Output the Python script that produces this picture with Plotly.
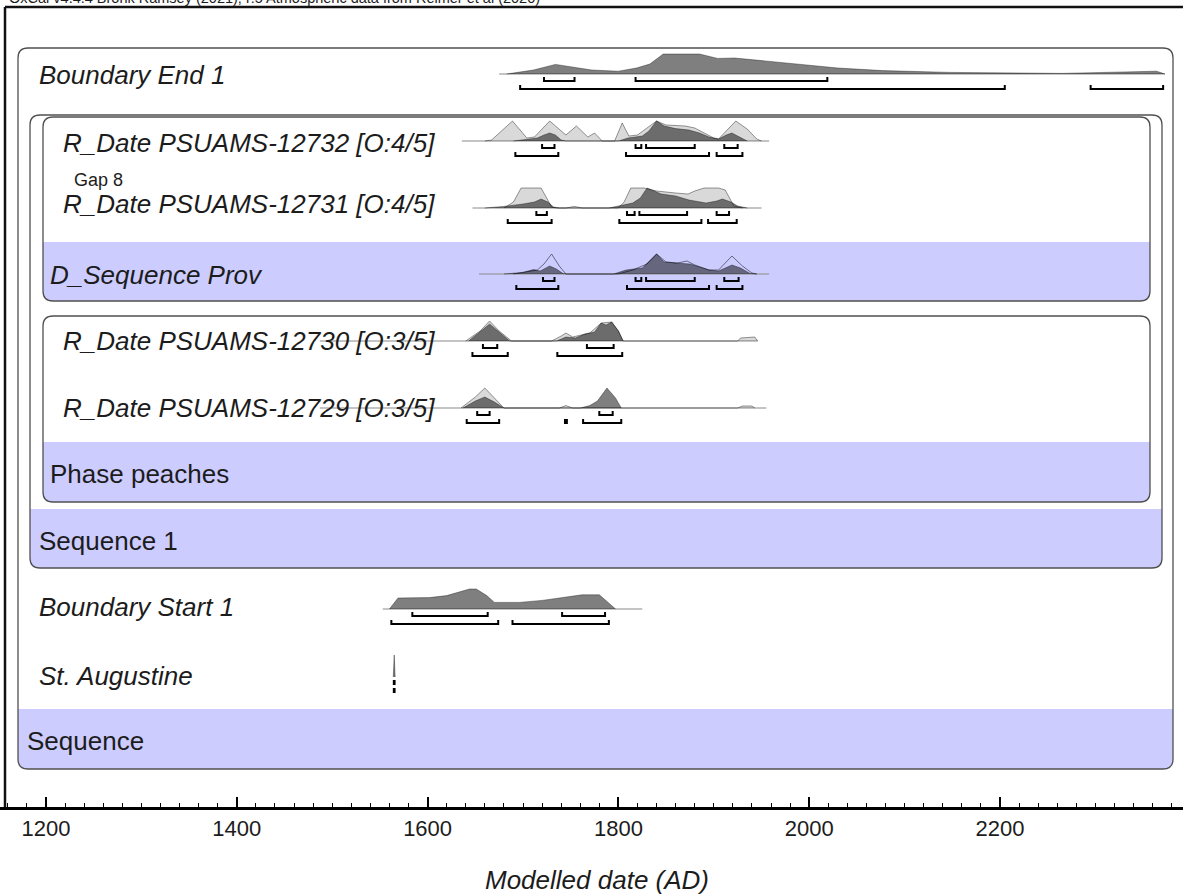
import plotly.graph_objects as go

# ---------------- data ----------------
title_text = "OxCal v4.4.4 Bronk Ramsey (2021); r:5 Atmospheric data from Reimer et al (2020)"
axis_title = "Modelled date (AD)"
tick_years = [1200, 1400, 1600, 1800, 2000, 2200]

# Boundary End 1
end1_span = [1675, 2373]
end1_years = [1683, 1711, 1734, 1749, 1772, 1800, 1819, 1833, 1847, 1885, 1904, 1922, 1940, 1959, 1997, 2030, 2077, 2148, 2265, 2331, 2364, 2373]
end1_post = [0, 0.2, 0.48, 0.38, 0.2, 0.14, 0.3, 0.5, 1.0, 1.0, 0.78, 0.8, 0.72, 0.6, 0.43, 0.3, 0.17, 0.08, 0.03, 0.08, 0.14, 0]
end1_68 = [[1722, 1754], [1818, 2019]]
end1_95 = [[1697, 2205], [2295, 2371]]

# R_Date PSUAMS-12732
d32_span = [1636, 1958]
d32_prior_years = [1660, 1667, 1689, 1704, 1712, 1728, 1745, 1756, 1768, 1775, 1783, 1796, 1804, 1811, 1820, 1840, 1850, 1860, 1870, 1880, 1890, 1900, 1905, 1923, 1935, 1945, 1950]
d32_prior = [0, 0.05, 1.0, 0.15, 0.2, 1.0, 0.3, 0.75, 0.2, 0.4, 0, 0, 0.9, 0.25, 0.3, 1.0, 0.8, 0.78, 0.75, 0.65, 0.4, 0.15, 0.1, 1.0, 0.6, 0.1, 0]
d32_post_years = [1690, 1700, 1715, 1722, 1728, 1734, 1740, 1745, 1800, 1810, 1825, 1832, 1840, 1848, 1860, 1874, 1885, 1895, 1905, 1913, 1919, 1927, 1935]
d32_post = [0, 0.05, 0.15, 0.3, 0.4, 0.3, 0.05, 0, 0, 0.15, 0.25, 0.5, 1.0, 0.75, 0.62, 0.55, 0.4, 0.2, 0.1, 0.3, 0.4, 0.2, 0]
d32_68 = [[1720, 1733], [1818, 1824], [1829, 1880], [1911, 1925]]
d32_95 = [[1692, 1737], [1808, 1895], [1903, 1930]]

# R_Date PSUAMS-12731
d31_span = [1647, 1950]
d31_prior_years = [1680, 1690, 1698, 1719, 1730, 1735, 1745, 1754, 1762, 1800, 1806, 1813, 1827, 1840, 1860, 1873, 1880, 1890, 1905, 1912, 1921, 1930]
d31_prior = [0, 0.3, 1.0, 1.0, 0.05, 0, 0, 0.08, 0, 0, 0.3, 1.0, 1.0, 0.85, 0.75, 0.7, 0.85, 1.0, 1.0, 0.9, 0.1, 0]
d31_post_years = [1660, 1680, 1700, 1712, 1719, 1726, 1732, 1738, 1790, 1800, 1815, 1823, 1830, 1845, 1860, 1874, 1892, 1903, 1909, 1918, 1925, 1935]
d31_post = [0, 0.08, 0.2, 0.3, 0.45, 0.3, 0.05, 0, 0, 0.1, 0.25, 0.5, 1.0, 0.7, 0.6, 0.4, 0.25, 0.35, 0.45, 0.3, 0.1, 0]
d31_68 = [[1714, 1725], [1809, 1817], [1822, 1872], [1903, 1916]]
d31_95 = [[1684, 1730], [1801, 1887], [1894, 1924]]

# D_Sequence Prov
dseq_span = [1654, 1958]
dseq_prior_years = [1690, 1705, 1715, 1722, 1730, 1738, 1745, 1800, 1815, 1830, 1840, 1850, 1862, 1872, 1880, 1895, 1905, 1919, 1930, 1940, 1945]
dseq_prior = [0, 0.1, 0.2, 0.5, 1.0, 0.4, 0, 0, 0.2, 0.5, 1.0, 0.6, 0.55, 0.65, 0.45, 0.2, 0.2, 0.9, 0.4, 0.05, 0]
dseq_post_years = [1680, 1700, 1711, 1718, 1724, 1728, 1735, 1742, 1746, 1795, 1808, 1825, 1840, 1848, 1860, 1875, 1885, 1895, 1905, 1912, 1919, 1928, 1938, 1945]
dseq_post = [0, 0.08, 0.22, 0.15, 0.3, 0.4, 0.25, 0.02, 0, 0, 0.2, 0.3, 1.0, 0.6, 0.55, 0.5, 0.35, 0.2, 0.15, 0.3, 0.45, 0.3, 0.03, 0]
dseq_68 = [[1721, 1733], [1818, 1824], [1829, 1880], [1911, 1926]]
dseq_95 = [[1693, 1737], [1809, 1895], [1903, 1930]]

# R_Date PSUAMS-12730
d30_span = [1487, 1946]
d30_prior_years = [1640, 1655, 1665, 1675, 1688, 1730, 1740, 1745, 1752, 1760, 1770, 1782, 1793, 1800, 1805, 1925, 1928, 1943, 1946]
d30_prior = [0, 0.5, 1.0, 0.5, 0, 0, 0.25, 0.4, 0.2, 0.3, 0.4, 0.9, 0.95, 0.5, 0, 0, 0.15, 0.2, 0]
d30_post_years = [1643, 1655, 1665, 1675, 1686, 1735, 1745, 1755, 1765, 1775, 1782, 1787, 1793, 1800, 1805]
d30_post = [0, 0.45, 0.85, 0.45, 0, 0, 0.2, 0.15, 0.35, 0.45, 0.9, 0.8, 0.95, 0.5, 0]
d30_68 = [[1658, 1673], [1767, 1795]]
d30_95 = [[1647, 1684], [1736, 1804]]

# R_Date PSUAMS-12729
d29_span = [1487, 1955]
d29_prior_years = [1635, 1650, 1660, 1670, 1680, 1738, 1745, 1752, 1925, 1930, 1940, 1943]
d29_prior = [0, 0.55, 1.0, 0.5, 0, 0, 0.12, 0, 0, 0.1, 0.1, 0]
d29_post_years = [1637, 1650, 1660, 1670, 1680, 1760, 1770, 1778, 1788, 1797, 1803]
d29_post = [0, 0.35, 0.55, 0.3, 0, 0, 0.12, 0.35, 1.0, 0.5, 0]
d29_68 = [[1652, 1665], [1780, 1794]]
d29_95 = [[1641, 1675], [1744, 1746], [1763, 1803]]

# Boundary Start 1
start1_span = [1553, 1825]
start1_years = [1560, 1569, 1602, 1620, 1633, 1644, 1651, 1662, 1670, 1696, 1720, 1741, 1762, 1780, 1790, 1797]
start1_post = [0, 0.55, 0.57, 0.67, 0.85, 1.0, 1.0, 0.67, 0.33, 0.33, 0.43, 0.57, 0.71, 0.71, 0.3, 0]
start1_68 = [[1584, 1663], [1741, 1786]]
start1_95 = [[1562, 1674], [1689, 1790]]

# St. Augustine (C_Date 1565)
aug_years = [1564, 1565, 1566]
aug_post = [0, 1.0, 0]
aug_68 = [[1564.6, 1565.4]]
aug_95 = [[1564.6, 1565.4]]

# ---------------- layout constants ----------------
W, H = 1183, 894
PLOT_BOTTOM = 807          # pixel row of the date axis
PX0_YEAR, PX_PER_YEAR = 1200, 0.954
X_AT_1200 = 46
x_range = [PX0_YEAR - X_AT_1200 / PX_PER_YEAR, PX0_YEAR + (W - X_AT_1200) / PX_PER_YEAR]
FONT = "Liberation Sans, Arial, Helvetica, sans-serif"
TXT = "#1c1c1c"
BAND = "#ccccff"
BORDER = "#505050"
PEAK = 20

rows = [
    dict(base=74, span=end1_span, prior=None, post=(end1_years, end1_post), h68=end1_68, h95=end1_95),
    dict(base=141, span=d32_span, prior=(d32_prior_years, d32_prior), post=(d32_post_years, d32_post), h68=d32_68, h95=d32_95),
    dict(base=208, span=d31_span, prior=(d31_prior_years, d31_prior), post=(d31_post_years, d31_post), h68=d31_68, h95=d31_95),
    dict(base=274, span=dseq_span, prior=(dseq_prior_years, dseq_prior), post=(dseq_post_years, dseq_post), h68=dseq_68, h95=dseq_95, outline=True),
    dict(base=341, span=d30_span, prior=(d30_prior_years, d30_prior), post=(d30_post_years, d30_post), h68=d30_68, h95=d30_95),
    dict(base=408, span=d29_span, prior=(d29_prior_years, d29_prior), post=(d29_post_years, d29_post), h68=d29_68, h95=d29_95),
    dict(base=609, span=start1_span, prior=None, post=(start1_years, start1_post), h68=start1_68, h95=start1_95),
    dict(base=677, span=None, prior=None, post=(aug_years, aug_post), h68=aug_68, h95=aug_95, peak=22),
]

labels = [
    ("Boundary End 1", 37, 75, True, 26),
    ("R_Date PSUAMS-12732 [O:4/5]", 61, 143, True, 26),
    ("Gap 8", 72, 180, False, 18),
    ("R_Date PSUAMS-12731 [O:4/5]", 61, 204, True, 26),
    ("D_Sequence Prov", 48, 275, True, 26),
    ("R_Date PSUAMS-12730 [O:3/5]", 61, 341, True, 26),
    ("R_Date PSUAMS-12729 [O:3/5]", 61, 408, True, 26),
    ("Phase peaches", 48, 474, False, 26),
    ("Sequence 1", 37, 541, False, 26),
    ("Boundary Start 1", 37, 607, True, 26),
    ("St. Augustine", 37, 676, True, 26),
    ("Sequence", 25, 741, False, 26),
]

# boxes: (x0, y0, x1, y1, band_top)
boxes = [
    (18, 48, 1173, 769, 709),
    (30, 115, 1162, 568, 509),
    (43, 117, 1150, 301, 242),
    (43, 316, 1150, 502, 442),
]


def rrect(x0, y0, x1, y1, r):
    return (f"M {x0+r},{y0} L {x1-r},{y0} Q {x1},{y0} {x1},{y0+r} "
            f"L {x1},{y1-r} Q {x1},{y1} {x1-r},{y1} L {x0+r},{y1} "
            f"Q {x0},{y1} {x0},{y1-r} L {x0},{y0+r} Q {x0},{y0} {x0+r},{y0} Z")


def band(x0, yb, x1, y1, r):
    return (f"M {x0},{yb} L {x1},{yb} L {x1},{y1-r} Q {x1},{y1} {x1-r},{y1} "
            f"L {x0+r},{y1} Q {x0},{y1} {x0},{y1-r} Z")


fig = go.Figure()
shapes = []
R = 10
for (x0, y0, x1, y1, yb) in boxes:
    shapes.append(dict(type="path", path=band(x0, yb, x1, y1, R), xref="x2", yref="y",
                       fillcolor=BAND, line=dict(width=0), layer="below"))
    shapes.append(dict(type="path", path=rrect(x0, y0, x1, y1, R), xref="x2", yref="y",
                       fillcolor="rgba(0,0,0,0)", line=dict(color=BORDER, width=1.3), layer="below"))

# outer frame (left and top)
shapes.append(dict(type="line", xref="x2", yref="y", x0=5, x1=5, y0=7, y1=PLOT_BOTTOM,
                   line=dict(color="#111", width=2.5)))
shapes.append(dict(type="line", xref="x2", yref="y", x0=5, x1=W + 5, y0=7, y1=7,
                   line=dict(color="#111", width=2.5)))

for row in rows:
    base = row["base"]
    pk = row.get("peak", PEAK)
    if row["span"]:
        fig.add_trace(go.Scatter(x=row["span"], y=[base, base], mode="lines",
                                 line=dict(color="#8a8a8a", width=1.2), hoverinfo="skip"))
    if row["prior"]:
        yrs, pr = row["prior"]
        ys = [base - p * pk for p in pr]
        if row.get("outline"):
            fig.add_trace(go.Scatter(x=yrs, y=ys, mode="lines",
                                     line=dict(color="rgba(70,70,90,0.75)", width=1), hoverinfo="skip"))
        else:
            fig.add_trace(go.Scatter(x=yrs, y=ys, mode="lines", fill="toself",
                                     fillcolor="rgba(0,0,0,0.15)",
                                     line=dict(color="rgba(0,0,0,0.4)", width=1), hoverinfo="skip"))
    yrs, po = row["post"]
    ys = [base - p * pk for p in po]
    fig.add_trace(go.Scatter(x=yrs, y=ys, mode="lines", fill="toself",
                             fillcolor="rgba(0,0,0,0.5)",
                             line=dict(color="rgba(0,0,0,0.45)", width=0.8), hoverinfo="skip"))
    # HPD brackets
    bx, by = [], []
    for ranges, off in ((row["h68"], 7), (row["h95"], 15)):
        y = base + off
        for a, b in ranges:
            bx += [a, a, b, b, None]
            by += [y - 4, y, y, y - 4, None]
    fig.add_trace(go.Scatter(x=bx, y=by, mode="lines", line=dict(color="black", width=2),
                             hoverinfo="skip"))

annotations = []
for text, x, y, ital, size in labels:
    annotations.append(dict(text=f"<i>{text}</i>" if ital else text, x=x, y=y, xref="x2", yref="y",
                            xanchor="left", yanchor="middle", showarrow=False,
                            font=dict(family=FONT, size=size, color=TXT)))
annotations.append(dict(text=title_text, x=7, y=8, xref="x2", yref="y", xanchor="left",
                        yanchor="bottom", showarrow=False, font=dict(family=FONT, size=14.5, color=TXT)))
annotations.append(dict(text=f"<i>{axis_title}</i>", x=597 / W, y=(PLOT_BOTTOM - 880) / PLOT_BOTTOM,
                        xref="paper", yref="paper",
                        xanchor="center", yanchor="middle", showarrow=False,
                        font=dict(family=FONT, size=26, color=TXT)))

fig.update_layout(
    width=W, height=H,
    margin=dict(l=0, r=0, t=0, b=H - PLOT_BOTTOM, autoexpand=False),
    paper_bgcolor="white", plot_bgcolor="white",
    showlegend=False,
    shapes=shapes,
    annotations=annotations,
    xaxis=dict(range=x_range, tickvals=tick_years, ticktext=[str(t) for t in tick_years],
               ticks="inside", ticklen=10, tickwidth=1.5, tickcolor="black",
               showline=True, linecolor="black", linewidth=2.5,
               showgrid=False, zeroline=False, ticklabelstandoff=0,
               tickfont=dict(family=FONT, size=22, color=TXT),
               minor=dict(dtick=20, tick0=1200, ticks="inside", ticklen=4, tickwidth=1, tickcolor="black"),
               fixedrange=True),
    xaxis2=dict(range=[0, W], overlaying="x", anchor="y", visible=False, fixedrange=True),
    yaxis=dict(range=[PLOT_BOTTOM, 0], visible=False, fixedrange=True),
)

fig.write_html("out.html", config={"displayModeBar": False},
               post_script="document.body.style.margin='0';document.body.style.overflow='hidden';")
